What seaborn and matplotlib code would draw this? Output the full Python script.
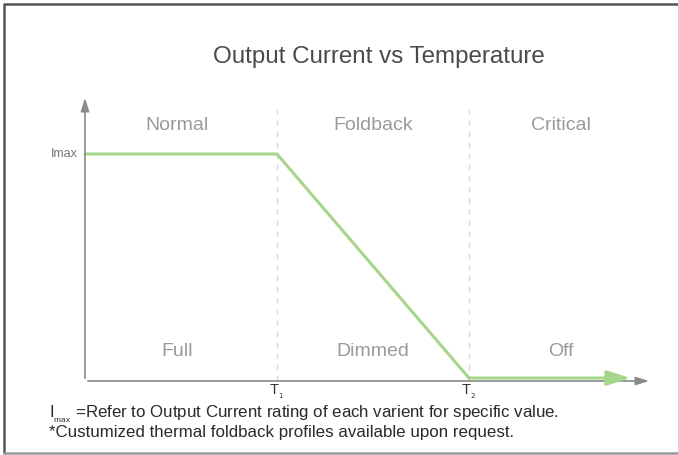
import matplotlib
matplotlib.use('Agg')
import matplotlib.pyplot as plt
import seaborn as sns
import pandas as pd

# profile points (temperature in units of T1, current in units of Imax)
temps = [0.0, 1.0, 2.0, 2.84]
current = [1.0, 1.0, 0.0, 0.0]
zones = ['Normal', 'Foldback', 'Critical']
states = ['Full', 'Dimmed', 'Off']
zone_centers = [0.48, 1.5, 2.48]
t_ticks = [1.0, 2.0]
t_labels = ['T$_{_1}$', 'T$_{_2}$']

df = pd.DataFrame({'temp': temps, 'current': current})

sns.set_style('white')
plt.rcParams['font.family'] = ['Liberation Sans', 'DejaVu Sans']

fig = plt.figure(figsize=(6.78, 4.55), dpi=100)
ax = fig.add_axes([0, 0, 1, 1])
# 1 unit of temp = 192 px, origin at x=85 px; 1 unit current = 224 px, zero at y=378 px
ax.set_xlim(-85 / 192, (678 - 85) / 192)
ax.set_ylim((378 - 455) / 224, 378 / 224)
ax.axis('off')

green = '#a6d68c'
gray = '#8a8a8a'
txt = '#9a9a9a'

# frame: left, top, bottom
fx = lambda p: (p - 85) / 192
fy = lambda p: (378 - p) / 224
ax.plot([fx(4), fx(4), fx(700)], [fy(453), fy(4), fy(4)], color='#555555', lw=1.8, clip_on=False)
ax.plot([fx(4), fx(700)], [fy(453), fy(453)], color='#999999', lw=1.8, clip_on=False)

# axes arrows
y0 = -3 / 224
ax.annotate('', xy=(0, fy(95)), xytext=(0, y0),
            arrowprops=dict(arrowstyle='-|>,head_length=0.8,head_width=0.25', color=gray, lw=1.2))
ax.annotate('', xy=(fx(652), y0), xytext=(0, y0),
            arrowprops=dict(arrowstyle='-|>,head_length=0.8,head_width=0.25', color=gray, lw=1.2))

# zone dividers
for t in t_ticks:
    ax.plot([t, t], [y0, fy(105)], ls=(0, (4, 4)), color='#d8d8d8', lw=1)

sns.lineplot(data=df.iloc[:-1], x='temp', y='current', color=green, lw=2.2, ax=ax)
ax.annotate('', xy=(temps[-1], current[-1]), xytext=(temps[-2], current[-2]),
            arrowprops=dict(arrowstyle='-|>,head_length=1.4,head_width=0.45', color=green, lw=2.2,
                            shrinkA=0, shrinkB=0))

for c, z, s in zip(zone_centers, zones, states):
    ax.text(c, fy(125), z, ha='center', va='center', fontsize=14, color=txt)
    ax.text(c, fy(352), s, ha='center', va='center', fontsize=14, color=txt)

ax.text(fx(78), 1.0, 'Imax', ha='right', va='center', fontsize=9, color='#777777')
for t, lab in zip(t_ticks, t_labels):
    ax.text(t, fy(392), lab, ha='center', va='center', fontsize=10.5, color='#333333')

ax.text(fx(379), fy(57), 'Output Current vs Temperature',
        ha='center', va='center', fontsize=17.4, color='#4a4a4a')

ax.text(fx(49), fy(414),
        'I$_{_{\\mathregular{max}}}$ =Refer to Output Current rating of each varient for specific value.',
        ha='left', va='center', fontsize=12.2, color='#2a2a2a')
ax.text(fx(49), fy(432),
        '*Custumized thermal foldback profiles available upon request.',
        ha='left', va='center', fontsize=12.2, color='#2a2a2a')

fig.savefig('out.png', dpi=100)
